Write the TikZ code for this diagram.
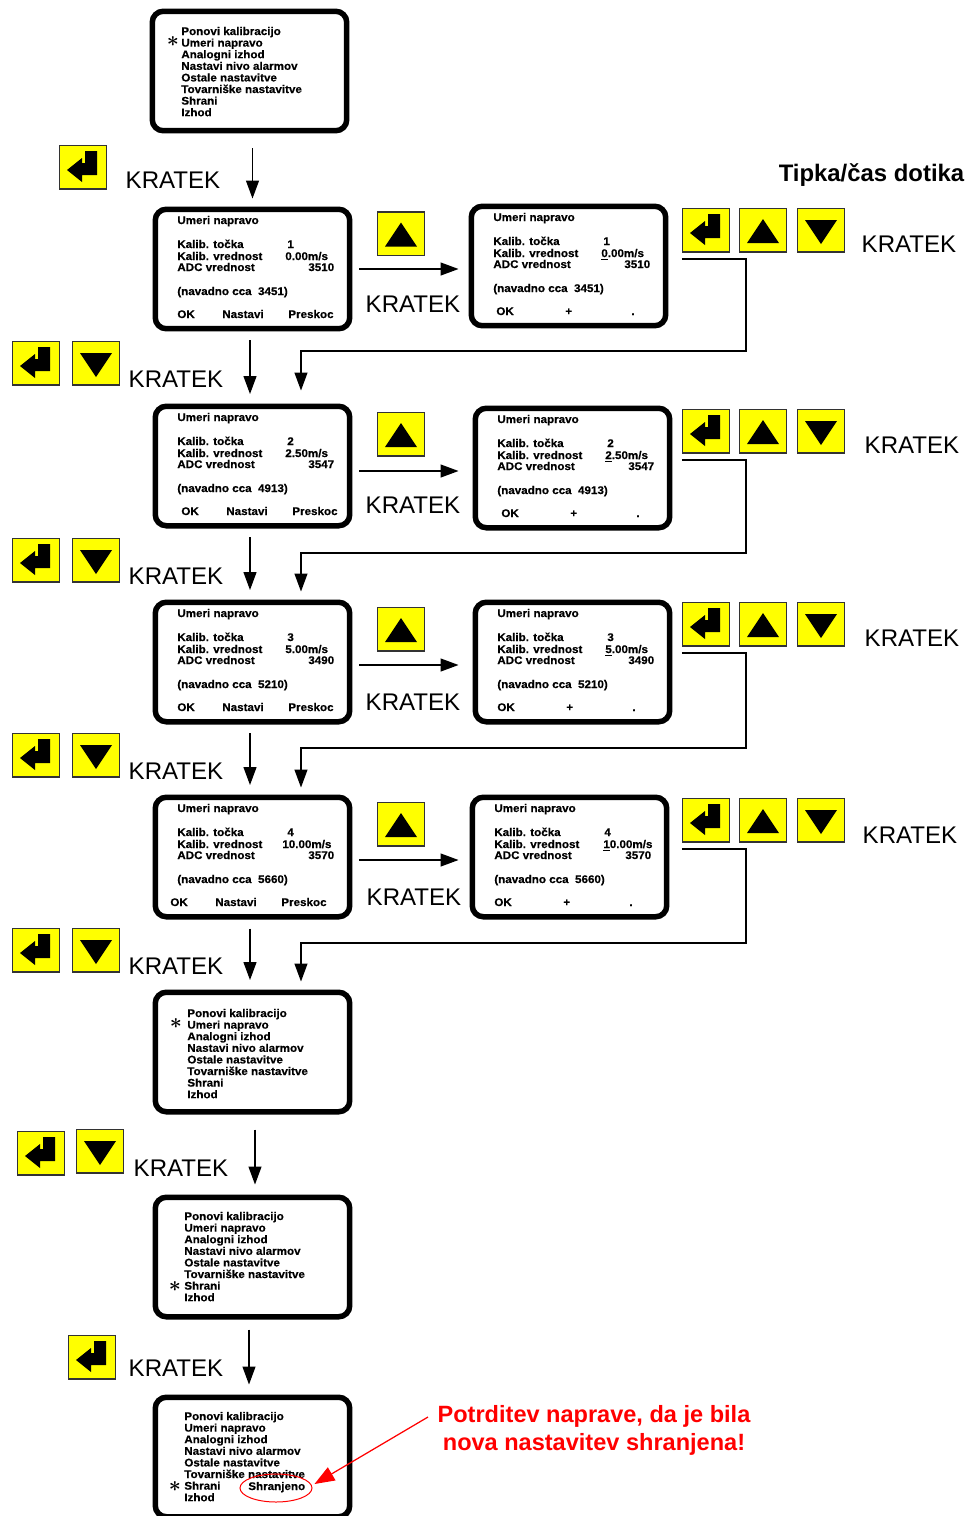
\documentclass[tikz,border=0pt]{standalone}
\usepackage{fontspec}
\setmainfont{Liberation Sans}
\newfontface\lcdfont{Liberation Sans Bold}[FakeStretch=1.05,FakeBold=0.5]
\usetikzlibrary{arrows.meta,shapes.geometric}
\definecolor{keyyellow}{RGB}{255,255,0}
\tikzset{
  screen/.style={draw,line width=1.1mm,rounded corners=2.2mm,fill=white,inner sep=0pt,
    minimum width=38.9mm,minimum height=23.9mm},
  lcd/.style={anchor=base west,inner sep=0pt,font=\fontsize{6.3}{7}\lcdfont},
  keybox/.style={draw=black!80,line width=0.3mm,fill=keyyellow,inner sep=0pt,
    minimum width=9.4mm,minimum height=8.7mm},
  kratek/.style={inner sep=0pt,font=\fontsize{13.7}{16}\selectfont},
  flow/.style={line width=0.25mm,-{Triangle[length=3.6mm,width=2.6mm]}},
  redflow/.style={red,line width=0.25mm,-{Triangle[length=4mm,width=3mm]}},
  redtext/.style={red,inner sep=0pt,font=\fontsize{13.4}{16}\selectfont\bfseries}
}
\newcommand{\enterkey}[3]{
  \node[keybox] (#1) at (#2,#3) {};
  \fill[shift={(#2,#3)}] (-16,3) -- (-1,-9) -- (-1,-4) -- (2,-4) -- (2,-16) -- (14,-16)
    -- (14,8) -- (-1,8) -- (-1,15) -- cycle;
}
\newcommand{\upkey}[3]{
  \node[keybox] (#1) at (#2,#3) {};
  \fill[shift={(#2,#3)}] (0,-11) -- (16,13) -- (-16,13) -- cycle;
}
\newcommand{\downkey}[3]{
  \node[keybox] (#1) at (#2,#3) {};
  \fill[shift={(#2,#3)}] (0,14) -- (16,-10) -- (-16,-10) -- cycle;
}
% box left, box top, text left, first line, star x, star y
\newcommand{\menuscreen}[7]{
  \node[screen] (#1) at ({#2+99.5},{#3+62}) {};
  \foreach \txt [count=\i] in {Ponovi kalibracijo,Umeri napravo,Analogni izhod,Nastavi nivo alarmov,
      Ostale nastavitve,Tovarniške nastavitve,Shrani,Izhod}
    \node[lcd] (#1-\i) at (#4,{#5+4+11.6*(\i-1)}) {\txt};
  \node[inner sep=0pt,font=\fontsize{12.5}{13}\selectfont\boldmath] (#1-star) at (#6,#7) {$\ast$};
}
% box left, box top, point, value, adc, typical value
\newcommand{\calbody}[6]{
  \node[screen] (#1) at ({#2+99.5},{#3+62}) {};
  \node[lcd] (#1-title) at ({#2+24},{#3+17}) {Umeri napravo};
  \node[lcd] (#1-point) at ({#2+24},{#3+41}) {Kalib. točka};
  \node[lcd] (#1-pval) at ({#2+134},{#3+41}) {#4};
  \node[lcd] (#1-target) at ({#2+24},{#3+53}) {Kalib. vrednost};
  \node[lcd] (#1-adc) at ({#2+24},{#3+64}) {ADC vrednost};
  \node[lcd] (#1-aval) at ({#2+155},{#3+64}) {#5};
  \node[lcd] (#1-typ) at ({#2+24},{#3+88}) {(navadno cca\ \ #6)};
}
% name, box left, box top, point, value, value left, adc, typical value, OK left
\newcommand{\calscreen}[9]{
  \calbody{#1}{#2}{#3}{#4}{#7}{#8}
  \node[lcd] (#1-tval) at ({#2+#6},{#3+53}) {#5};
  \node[lcd] (#1-ok) at (#9,{#3+111}) {OK};
  \node[lcd] (#1-mid) at ({#9+45},{#3+111}) {Nastavi};
  \node[lcd] (#1-skip) at ({#9+111},{#3+111}) {Preskoc};
}
\newcommand{\setscreen}[9]{
  \calbody{#1}{#2}{#3}{#4}{#7}{#8}
  \node[lcd] (#1-tval) at ({#2+#6},{#3+53}) {#5};
  \node[lcd] (#1-ok) at (#9,{#3+111}) {OK};
  \node[lcd] (#1-plus) at ({#9+69},{#3+111}) {+};
  \node[lcd] (#1-minus) at ({#9+135},{#3+111}) {.};
}
\begin{document}
\begin{tikzpicture}[x=0.02cm,y=-0.02cm]
  \clip (0,0) rectangle (968,1516);
  \node[font=\fontsize{13.6}{16}\selectfont\bfseries,inner sep=0pt] (head) at (871.5,175.5) {Tipka/čas dotika};

  \menuscreen{menuA}{150}{9}{181}{31}{173}{42}
  \enterkey{keyA}{83}{167}
  \node[kratek] (labA) at (173,180) {KRATEK};
%%%
  \calscreen{calA}{153}{207}{1}{0.00m/s}{132}{3510}{3451}{177}
  \setscreen{setA}{469}{204}{1}{\underline{0}.00m/s}{132}{3510}{3451}{496}
  \upkey{upA}{401}{233.5}
  \node[kratek] (labUpA) at (413,304) {KRATEK};
  \enterkey{enA}{706}{230}
  \upkey{plusA}{763}{230}
  \downkey{minusA}{821}{230}
  \node[kratek] (labSetA) at (909,244) {KRATEK};
  \enterkey{enB}{36}{363}
  \downkey{downB}{96}{363}
  \node[kratek] (labB) at (176,379) {KRATEK};
%%%
  \calscreen{calB}{153}{404}{2}{2.50m/s}{132}{3547}{4913}{181}
  \setscreen{setB}{473}{406}{2}{\underline{2}.50m/s}{132}{3547}{4913}{501}
  \upkey{upB}{401}{434}
  \node[kratek] (labUpB) at (413,505) {KRATEK};
  \enterkey{enC}{706}{431}
  \upkey{plusB}{763}{431}
  \downkey{minusB}{821}{431}
  \node[kratek] (labSetB) at (912,445) {KRATEK};
  \enterkey{enD}{36}{560}
  \downkey{downC}{96}{560}
  \node[kratek] (labC) at (176,576) {KRATEK};
%%%
  \calscreen{calC}{153}{600}{3}{5.00m/s}{132}{3490}{5210}{177}
  \setscreen{setC}{473}{600}{3}{\underline{5}.00m/s}{132}{3490}{5210}{497}
  \upkey{upC}{401}{629}
  \node[kratek] (labUpC) at (413,702) {KRATEK};
  \enterkey{enE}{706}{624}
  \upkey{plusC}{763}{624}
  \downkey{minusC}{821}{624}
  \node[kratek] (labSetC) at (912,638) {KRATEK};
  \enterkey{enF}{36}{755}
  \downkey{downD}{96}{755}
  \node[kratek] (labD) at (176,771) {KRATEK};
%%%
  \calscreen{calD}{153}{795}{4}{10.00m/s}{129}{3570}{5660}{170}
  \setscreen{setD}{470}{795}{4}{\underline{1}0.00m/s}{133}{3570}{5660}{494}
  \upkey{upD}{401}{824}
  \node[kratek] (labUpD) at (414,897) {KRATEK};
  \enterkey{enG}{706}{820}
  \upkey{plusD}{763}{820}
  \downkey{minusD}{821}{820}
  \node[kratek] (labSetD) at (910,835) {KRATEK};
  \enterkey{enH}{36}{950}
  \downkey{downE}{96}{950}
  \node[kratek] (labE) at (176,966) {KRATEK};
%%%
  \menuscreen{menuB}{153}{990}{187}{1013}{176}{1024}
  \enterkey{enI}{41}{1153}
  \downkey{downF}{100}{1151}
  \node[kratek] (labF) at (181,1168) {KRATEK};
%%%
  \menuscreen{menuC}{153}{1195}{184}{1216}{175}{1287}
  \enterkey{enJ}{92}{1357}
  \node[kratek] (labG) at (176,1368) {KRATEK};
%%%
  \menuscreen{menuD}{153}{1395}{184}{1416}{175}{1487}
  \node[lcd] (saved) at (248,1490) {Shranjeno};
  \node[draw=red,line width=0.2mm,ellipse,inner sep=0pt,minimum width=14.4mm,minimum height=5.6mm]
    (savedOval) at (276,1488) {};
  \node[redtext] (noteA) at (594,1416.5) {Potrditev naprave, da je bila};
  \node[redtext] (noteB) at (594,1444.5) {nova nastavitev shranjena!};
  \coordinate (noteEnd) at (428,1417);
  \draw[redflow] (noteEnd) -- ([shift={(0.4mm,0.8mm)}]savedOval.east);

  \draw[flow,shorten <=3mm,shorten >=1.6mm] (menuA.south -| calA.north) -- (calA.north);
  \foreach \a/\b in {calA/calB,calB/calC,calC/calD,calD/menuB}
    \draw[flow,shorten <=1.8mm,shorten >=1.9mm] ([xshift=-0.5mm]\a.south) -- ([xshift=-0.5mm]\b.north);
  \draw[flow,shorten <=3mm,shorten >=2mm] ([xshift=0.5mm]menuB.south) -- ([xshift=0.5mm]menuC.north);
  \draw[flow,shorten <=2mm,shorten >=2mm] ([xshift=-0.7mm]menuC.south) -- ([xshift=-0.7mm]menuD.north);
  \foreach \a/\b/\s/\e in {calA/setA/0/2,calB/setB/-1/2.8,calC/setC/-0.6/2.8,calD/setD/-0.6/2.2}
    \draw[flow,shorten <=1.4mm,shorten >=\e mm] ([yshift=\s mm]\a.east) -- ([yshift=\s mm]\a.east -| \b.west);
  \foreach \k/\t/\y/\b/\e in {enA/turnA/351/calB/2.6,enC/turnB/553/calC/1.6,enE/turnC/748/calD/1.4,enG/turnD/943/menuB/1.6} {
    \coordinate (\t) at (746,\y);
    \draw[flow,shorten >=\e mm] ([yshift=-1.3mm]\k.south west) -| (\t) -| ([xshift=9.7mm]\b.north);
  }
\end{tikzpicture}
\end{document}
